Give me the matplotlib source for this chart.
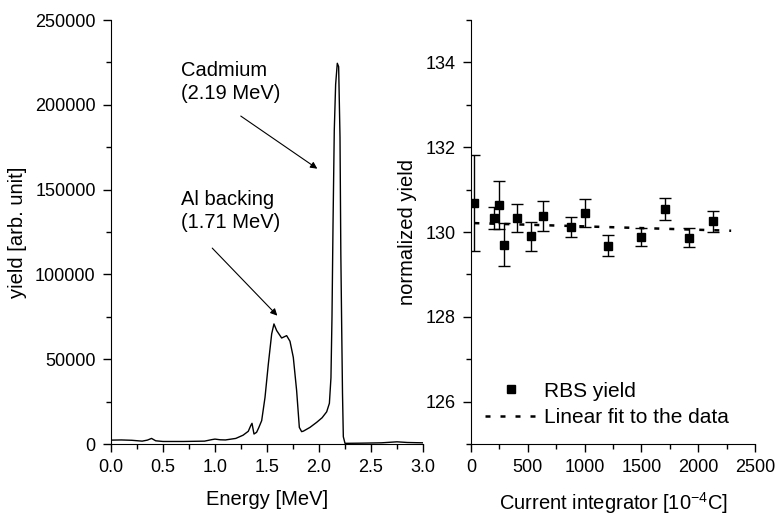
import matplotlib
matplotlib.use('Agg')
import matplotlib.pyplot as plt
from matplotlib.ticker import MultipleLocator

plt.rcParams['font.family'] = ['Liberation Sans', 'DejaVu Sans']
plt.rcParams['mathtext.default'] = 'regular'

# RBS spectrum (left panel)
energy = [0.00, 0.10, 0.20, 0.30, 0.35, 0.39, 0.43, 0.50, 0.70, 0.90, 0.97, 1.00,
          1.05, 1.10, 1.20, 1.27, 1.32, 1.345, 1.356, 1.375, 1.40, 1.42, 1.449,
          1.481, 1.513, 1.545, 1.567, 1.593, 1.641, 1.689, 1.721, 1.753, 1.785,
          1.811, 1.833, 1.85, 1.913, 1.978, 2.03, 2.074, 2.10, 2.115, 2.125,
          2.135, 2.147, 2.16, 2.176, 2.189, 2.202, 2.21, 2.218, 2.226, 2.234,
          2.25, 2.40, 2.60, 2.75, 2.85, 3.00]
counts = [2300, 2400, 2200, 1700, 2300, 3300, 1900, 1500, 1500, 1700, 2600, 2900,
          2500, 2400, 3300, 5200, 7500, 11000, 12200, 5900, 6900, 9500, 13800,
          27500, 47200, 64900, 70800, 66900, 62500, 63900, 60600, 51100, 31500,
          9800, 7300, 7600, 9800, 12800, 15500, 19000, 24000, 39000, 75000,
          130000, 185000, 212000, 224500, 222500, 181000, 112000, 70000, 30000, 4300,
          400, 500, 700, 1300, 900, 700]

# normalized yield vs integrated charge (right panel)
charge = [30, 205, 243, 292, 409, 526, 635, 877, 1003, 1205, 1500, 1705, 1921, 2134]
norm_yield = [130.69, 130.32, 130.64, 129.70, 130.33, 129.90, 130.37, 130.12,
              130.46, 129.68, 129.88, 130.54, 129.87, 130.25]
yield_err = [1.13, 0.26, 0.57, 0.51, 0.34, 0.34, 0.35, 0.24, 0.33, 0.25, 0.21,
             0.26, 0.23, 0.25]
fit_x = [30, 2290]
fit_y = [130.21, 130.03]

fig = plt.figure(figsize=(7.75, 5.16), dpi=100)
ax1 = fig.add_axes([0.1432, 0.1395, 0.4026, 0.8217])
ax2 = fig.add_axes([0.6077, 0.1395, 0.3665, 0.8217])

fs = 13

for ax in (ax1, ax2):
    ax.spines['top'].set_visible(False)
    ax.spines['right'].set_visible(False)
    ax.tick_params(which='major', direction='out', length=6, width=1,
                   labelsize=fs, pad=5)
    ax.tick_params(which='minor', direction='out', length=3.5, width=1)

ax1.plot(energy, counts, color='black', lw=1)
ax1.set_xlim(0, 3.0)
ax1.set_ylim(0, 250000)
ax1.xaxis.set_major_locator(MultipleLocator(0.5))
ax1.xaxis.set_minor_locator(MultipleLocator(0.25))
ax1.yaxis.set_major_locator(MultipleLocator(50000))
ax1.yaxis.set_minor_locator(MultipleLocator(25000))
ax1.set_xlabel('Energy [MeV]', fontsize=14.5, labelpad=10)
ax1.set_ylabel('yield [arb. unit]', fontsize=14.5, labelpad=6)

arrow = dict(arrowstyle='-|>', color='black', lw=0.8, mutation_scale=10)
ax1.text(0.67, 226000, 'Cadmium\n(2.19 MeV)', fontsize=14.5, va='top', ha='left',
         linespacing=1.3)
ax1.annotate('', xy=(2.006, 161400), xytext=(1.226, 194300), arrowprops=arrow)
ax1.text(0.67, 150000, 'Al backing\n(1.71 MeV)', fontsize=14.5, va='top', ha='left',
         linespacing=1.3)
ax1.annotate('', xy=(1.618, 74500), xytext=(0.955, 116700), arrowprops=arrow)

ax2.errorbar(charge, norm_yield, yerr=yield_err, fmt='none', ecolor='black',
             elinewidth=1, capsize=4, capthick=1)
ax2.plot(charge, norm_yield, 's', color='black', ms=6, label='RBS yield')
ax2.plot(fit_x, fit_y, color='black', lw=1.8, dashes=(2, 4),
         label='Linear fit to the data')
ax2.set_xlim(0, 2500)
ax2.set_ylim(125, 135)
ax2.xaxis.set_major_locator(MultipleLocator(500))
ax2.xaxis.set_minor_locator(MultipleLocator(250))
ax2.yaxis.set_major_locator(MultipleLocator(2))
ax2.yaxis.set_minor_locator(MultipleLocator(1))
ax2.set_xlabel(r'Current integrator [10$^{-4}$C]', fontsize=14.5, labelpad=10)
ax2.set_ylabel('normalized yield', fontsize=14.5, labelpad=6)
ax2.legend(loc='lower left', bbox_to_anchor=(0.05, 0.04), frameon=False,
           fontsize=15, handlelength=2.5, handletextpad=0.3, borderpad=0,
           labelspacing=0.35, borderaxespad=0)

fig.savefig('out.png', dpi=100)
